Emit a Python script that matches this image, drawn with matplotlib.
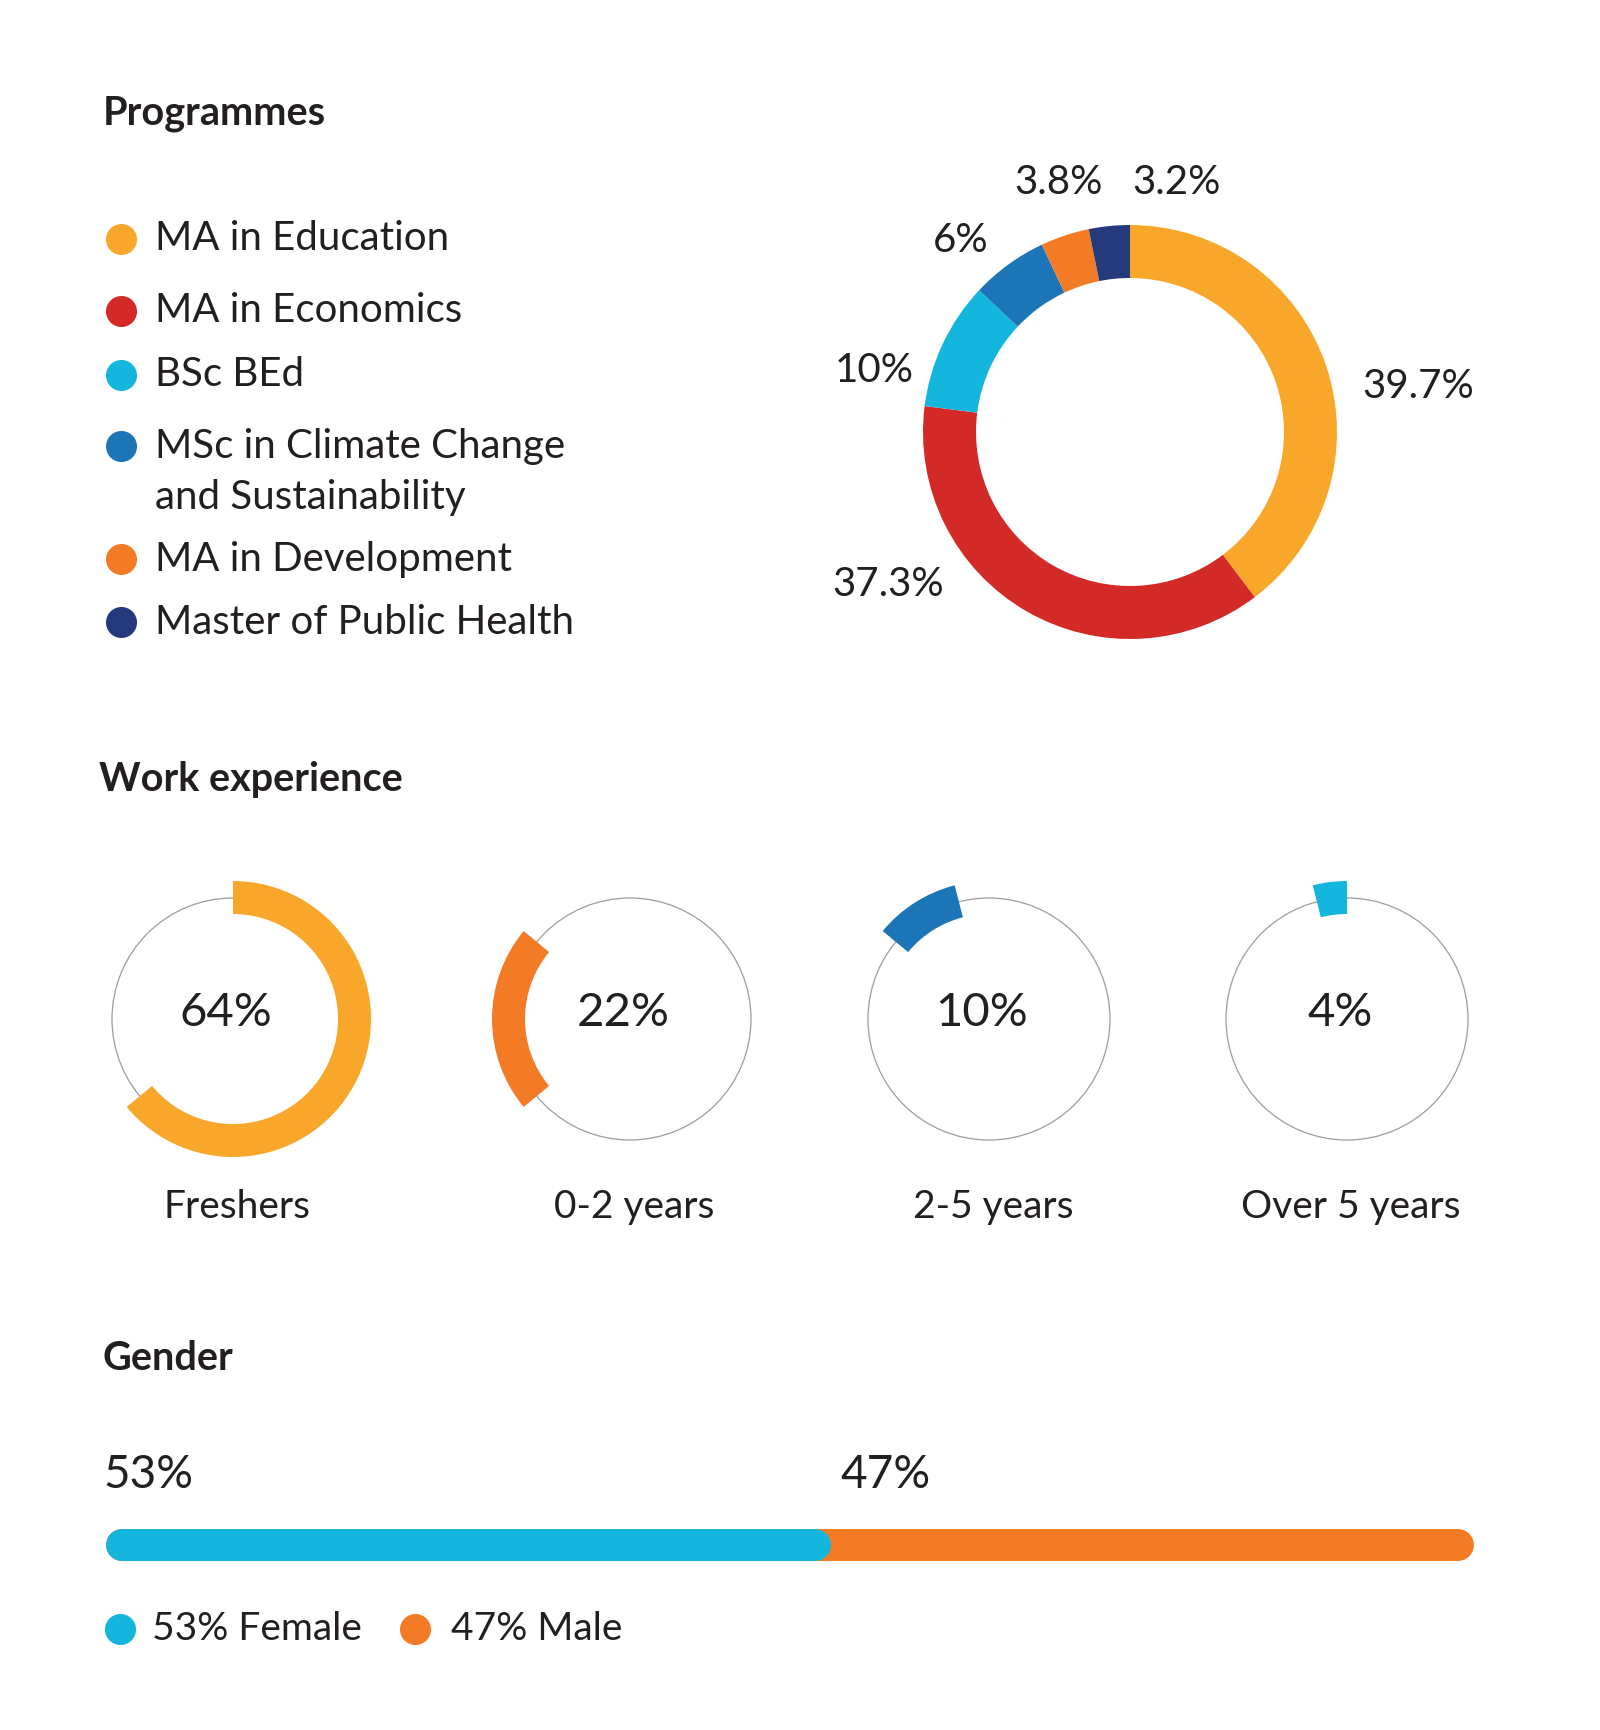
import matplotlib.pyplot as plt
from matplotlib.patches import Circle

plt.rcParams['font.family'] = ['Lato', 'DejaVu Sans']

# data
prog_names = ["MA in Education", "MA in Economics", "BSc BEd",
              "MSc in Climate Change\nand Sustainability", "MA in Development",
              "Master of Public Health"]
prog_share = [39.7, 37.3, 10, 6, 3.8, 3.2]
prog_labels = ["39.7%", "37.3%", "10%", "6%", "3.8%", "3.2%"]
prog_colors = ["#F9A72B", "#D42A27", "#14B6DE", "#1B75B6", "#F47B25", "#253A7C"]

work_groups = ["Freshers", "0-2 years", "2-5 years", "Over 5 years"]
work_share = [64, 22, 10, 4]
work_colors = ["#F9A72B", "#F47B25", "#1B75B6", "#14B6DE"]

gender_names = ["Female", "Male"]
gender_share = [53, 47]
gender_colors = ["#14B6DE", "#F47B25"]

W, H = 1600, 1730
TXT = "#231f20"


def Y(y):
    return H - y


fig = plt.figure(figsize=(16, 17.3), dpi=100)
ax = fig.add_axes([0, 0, 1, 1])

# titles
for t, x, y in [("Programmes", 103, 114), ("Work experience", 99, 780), ("Gender", 103, 1359)]:
    ax.text(x, Y(y), t, fontsize=28.5, fontweight='bold', color=TXT, va='center', ha='left')

# programmes legend
leg_y = [239, 311, 375, 472, 559, 622]
for name, c, y in zip(prog_names, prog_colors, leg_y):
    dot_y = y if "\n" not in name else y - 26
    ax.scatter([121], [Y(dot_y)], s=500, color=c, lw=0)
    ax.text(155, Y(y), name, fontsize=29, color=TXT, va='center', ha='left', linespacing=1.48)

# programmes donut
ax.pie(prog_share, colors=prog_colors, radius=207, center=(1130, Y(432)),
       startangle=90, counterclock=False, wedgeprops=dict(width=53, linewidth=0))
lab_pos = [(1418, 386), (888, 585), (874, 370), (961, 241), (1059, 182), (1177, 182)]
for lab, (x, y) in zip(prog_labels, lab_pos):
    ax.text(x, Y(y), lab, fontsize=29, color=TXT, va='center', ha='center')

# work experience rings
ring_x = [233, 630, 989, 1347]
ring_y = 1019
cum = 0
for g, v, c, cx in zip(work_groups, work_share, work_colors, ring_x):
    ax.add_patch(Circle((cx, Y(ring_y)), 121, fill=False, ec='#9d9d9d', lw=0.9, zorder=1))
    ax.pie([v, 100 - v], colors=[c, 'none'], radius=138, center=(cx, Y(ring_y)),
           startangle=90 - 3.6 * cum, counterclock=False,
           wedgeprops=dict(width=33, linewidth=0, zorder=2))
    cum += v
    ax.text(cx - 7, Y(1013), f"{v}%", fontsize=34, color=TXT, va='center', ha='center')
    ax.text(cx + 4, Y(1207), g, fontsize=28, color=TXT, va='center', ha='center')

# gender bar
x0, x1 = 106, 1474
bar_w = x1 - x0
r = 16
bar_y = Y(1545)
ax.plot([x0 + r, x1 - r], [bar_y, bar_y], color=gender_colors[1], lw=23,
        solid_capstyle='round')
ax.plot([x0 + r, x0 + bar_w * gender_share[0] / 100 - r], [bar_y, bar_y],
        color=gender_colors[0], lw=23, solid_capstyle='round')
ax.text(103, Y(1475), f"{gender_share[0]}%", fontsize=33, color=TXT, va='center', ha='left')
ax.text(x0 + bar_w * gender_share[0] / 100 + 9, Y(1475), f"{gender_share[1]}%",
        fontsize=33, color=TXT, va='center', ha='left')

for name, v, c, dx, tx in zip(gender_names, gender_share, gender_colors, [120, 415], [152, 451]):
    ax.scatter([dx], [Y(1629)], s=500, color=c, lw=0)
    ax.text(tx, Y(1629), f"{v}% {name}", fontsize=28, color=TXT, va='center', ha='left')

ax.set_xlim(0, W)
ax.set_ylim(0, H)
ax.set_aspect('equal')
ax.axis('off')

fig.savefig("out.png", dpi=100, facecolor='white')
